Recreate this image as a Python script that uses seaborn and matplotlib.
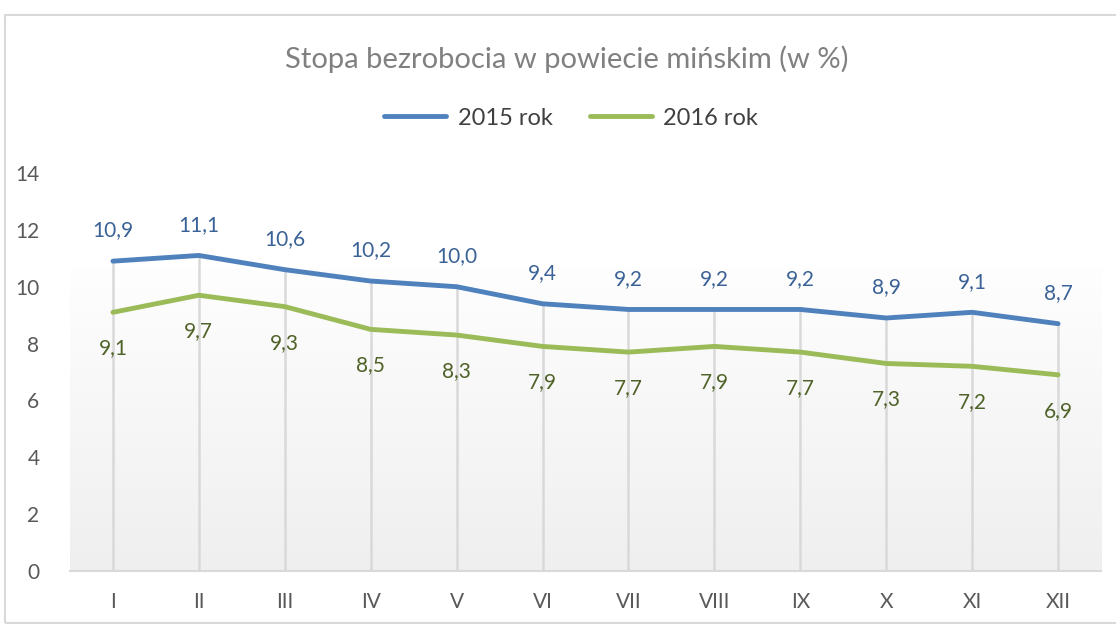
import numpy as np
import pandas as pd
import matplotlib
matplotlib.use('Agg')
import matplotlib.pyplot as plt
import seaborn as sns
from matplotlib.patches import Rectangle

months = ['I', 'II', 'III', 'IV', 'V', 'VI', 'VII', 'VIII', 'IX', 'X', 'XI', 'XII']
rate_2015 = [10.9, 11.1, 10.6, 10.2, 10.0, 9.4, 9.2, 9.2, 9.2, 8.9, 9.1, 8.7]
rate_2016 = [9.1, 9.7, 9.3, 8.5, 8.3, 7.9, 7.7, 7.9, 7.7, 7.3, 7.2, 6.9]
series = ['2015 rok', '2016 rok']

blue, green = '#4F81BD', '#9BBB59'
blue_lbl, green_lbl = '#3B6296', '#4F6228'

sns.set_style('white')
plt.rcParams['font.family'] = ['Lato', 'DejaVu Sans']

df = pd.DataFrame({
    'month': months * 2,
    'x': list(range(len(months))) * 2,
    'rate': rate_2015 + rate_2016,
    'series': [series[0]] * len(months) + [series[1]] * len(months),
})

fig = plt.figure(figsize=(11.16, 6.26), dpi=100)
ax = fig.add_axes([0.0627, 0.0879, 0.9239, 0.6357])

# chart border
fig.patches.append(Rectangle((0.0045, 0.005), 1.2, 0.971, transform=fig.transFigure,
                             fill=False, edgecolor='#d9d9d9', lw=1.5))

# soft gradient in the plot area
grad = np.linspace(0, 1, 256).reshape(-1, 1)
ax.imshow(grad, extent=(-0.5, len(months) - 0.5, 0, 10.6), aspect='auto',
          cmap=matplotlib.colors.LinearSegmentedColormap.from_list('g', ['#efefef', '#fefefe']),
          origin='lower', zorder=0)

# drop lines
tops = np.maximum(rate_2015, rate_2016)
ax.vlines(range(len(months)), 0, tops, color='#d9d9d9', lw=1.8, zorder=1)

sns.lineplot(data=df, x='x', y='rate', hue='series', palette=[blue, green],
             lw=3.5, ax=ax, legend=False, zorder=3)

for i, (a, b) in enumerate(zip(rate_2015, rate_2016)):
    ax.annotate(f'{a:.1f}'.replace('.', ','), (i, a), xytext=(0, 22), textcoords='offset points',
                ha='center', va='center', fontsize=15, color=blue_lbl)
    ax.annotate(f'{b:.1f}'.replace('.', ','), (i, b), xytext=(0, -26), textcoords='offset points',
                ha='center', va='center', fontsize=15, color=green_lbl)

ax.set_xlim(-0.5, len(months) - 0.5)
ax.set_ylim(0, 14)
ax.set_yticks(range(0, 15, 2))
ax.set_xticks(range(len(months)))
ax.set_xticklabels(months)
ax.set_xlabel('')
ax.set_ylabel('')
ax.tick_params(axis='both', length=0, labelsize=15, colors='#595959')
ax.tick_params(axis='x', pad=15)
ax.tick_params(axis='y', pad=22)
ax.set_facecolor('none')
for s in ['top', 'right', 'left']:
    ax.spines[s].set_visible(False)
ax.spines['bottom'].set_color('#d9d9d9')
ax.spines['bottom'].set_linewidth(1.5)

fig.text(0.508, 0.906, 'Stopa bezrobocia w powiecie mińskim (w %)', ha='center', va='center',
         fontsize=21, color='#808080')

handles = [plt.Line2D([], [], color=blue, lw=3.5), plt.Line2D([], [], color=green, lw=3.5)]
fig.legend(handles, series, loc='center', bbox_to_anchor=(0.512, 0.8115), ncol=2, frameon=False,
           fontsize=17, labelcolor='#404040', handlelength=2.6, handletextpad=0.5, columnspacing=1.6)

fig.savefig('out.png', dpi=100)
